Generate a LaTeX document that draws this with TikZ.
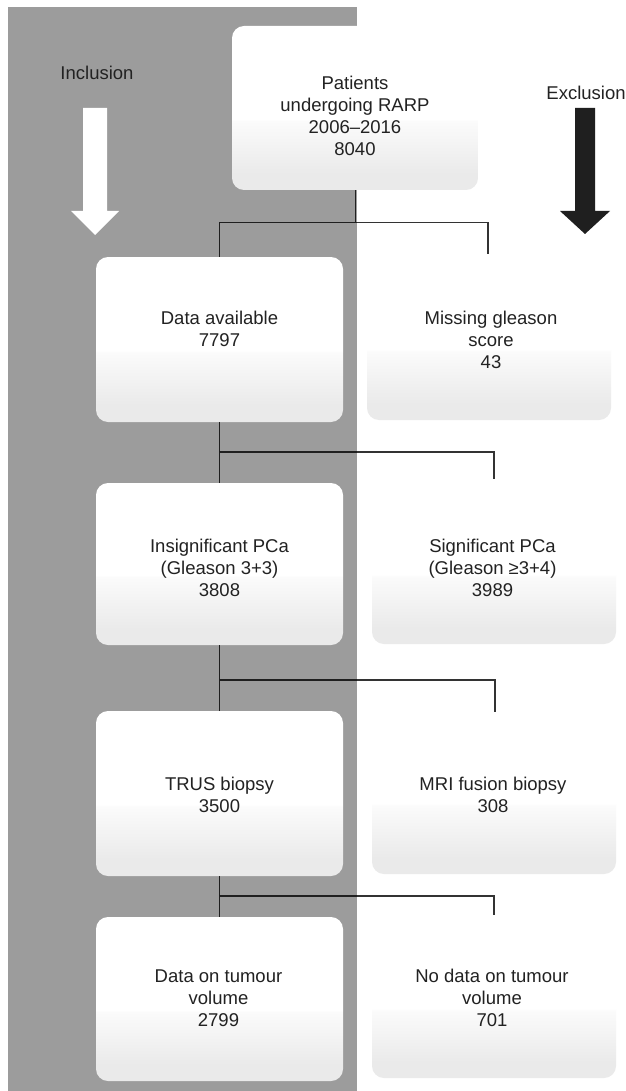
\documentclass[tikz,border=0pt]{standalone}
\usepackage{fontspec}
\setmainfont{Liberation Sans}
\definecolor{bggray}{HTML}{9C9C9C}
\definecolor{txtc}{HTML}{222222}
\definecolor{arrowc}{HTML}{1F1F1F}
\definecolor{shbot}{HTML}{EAEAEA}
\definecolor{shmid}{HTML}{FBFBFB}
\pgfdeclareverticalshading{boxshade}{100bp}{color(0bp)=(shbot); color(25bp)=(shbot); color(30bp)=(shbot); color(46bp)=(shmid); color(46.6bp)=(white); color(100bp)=(white)}
\tikzset{
  box/.style={rectangle, rounded corners=12pt, shading=boxshade, inner sep=0pt},
  lbl/.style={align=center, text=txtc, font=\fontsize{18.5}{22}\selectfont, inner sep=0pt},
  conn/.style={draw=black, draw opacity=0.8, line width=1.2pt},
}
\begin{document}
\begin{tikzpicture}[x=1pt, y=-1pt]
\useasboundingbox (0,0) rectangle (625,1091);
\fill[white] (0,0) rectangle (625,1091);
\fill[bggray] (8,7) rectangle (357,1091);

% boxes
\node[box, minimum width=246pt, minimum height=164pt] (pat) at (355,108) {};
\node[box, minimum width=247pt, minimum height=165pt] (da) at (219.5,339.5) {};
\node[box, minimum width=244pt, minimum height=163pt] (mg) at (489,338.5) {};
\node[box, minimum width=247pt, minimum height=162pt] (ins) at (219.5,564) {};
\node[box, minimum width=244pt, minimum height=161pt] (sig) at (494,563.5) {};
\node[box, minimum width=247pt, minimum height=165pt] (trus) at (219.5,793.5) {};
\node[box, minimum width=244pt, minimum height=163pt] (mri) at (494,792.5) {};
\node[box, minimum width=247pt, minimum height=164pt] (dt) at (219.5,999) {};
\node[box, minimum width=244pt, minimum height=161pt] (nd) at (494,997.5) {};

% texts
\node[lbl] (tpat) at (355,116) {Patients\\undergoing RARP\\2006--2016\\8040};
\node[lbl] (tda) at (219.5,329) {Data available\\7797};
\node[lbl] (tmg) at (491,340) {Missing gleason\\score\\43};
\node[lbl] (tins) at (219.5,568) {Insignificant PCa\\(Gleason 3+3)\\3808};
\node[lbl] (tsig) at (492.5,568) {Significant PCa\\(Gleason ≥3+4)\\3989};
\node[lbl] (ttrus) at (219.5,794.5) {TRUS biopsy\\3500};
\node[lbl] (tmri) at (493,794.5) {MRI fusion biopsy\\308};
\node[lbl] (tdt) at (218.5,998) {Data on tumour\\volume\\2799};
\node[lbl] (tnd) at (492,998) {No data on tumour\\volume\\701};

\node[lbl] (incl) at (97,73) {Inclusion};
\node[lbl] (excl) at (586,93) {Exclusion};

% big arrows
\fill[white] (83,108) -- (107,108) -- (107,211) -- (119,211) -- (95,235) -- (71,211) -- (83,211) -- cycle;
\fill[arrowc] (575,108) -- (595,108) -- (595,211) -- (610,211) -- (585,234) -- (560,211) -- (575,211) -- cycle;

% connectors
\coordinate (j1) at (355.7,222.5);
\coordinate (e1) at (488,254);
\coordinate (j2) at (219.5,452);
\coordinate (e2) at (494,479);
\coordinate (j3) at (219.5,680);
\coordinate (e3) at (495,712);
\coordinate (j4) at (219.5,896);
\coordinate (e4) at (494,915);

\draw[conn] (pat.south -| j1) -- (j1);
\draw[conn] (da.north) |- (e1 |- j1) -- (e1);
\draw[conn] (da.south) -- (ins.north);
\draw[conn] (j2) -| (e2);
\draw[conn] (ins.south) -- (trus.north);
\draw[conn] (j3) -| (e3);
\draw[conn] (trus.south) -- (dt.north);
\draw[conn] (j4) -| (e4);
\end{tikzpicture}
\end{document}
